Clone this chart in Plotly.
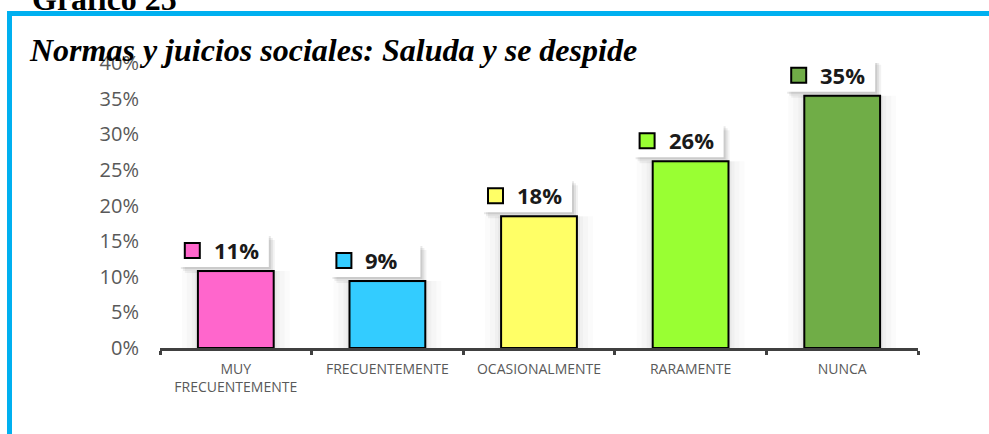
import plotly.graph_objects as go

categories = ["MUY<br>FRECUENTEMENTE", "FRECUENTEMENTE", "OCASIONALMENTE", "RARAMENTE", "NUNCA"]
values = [0.108, 0.094, 0.185, 0.262, 0.354]
labels = ["11%", "9%", "18%", "26%", "35%"]
colors = ["#FF66CC", "#33CCFF", "#FFFF66", "#99FF33", "#70AD47"]
y_ticks = [0, 0.05, 0.10, 0.15, 0.20, 0.25, 0.30, 0.35, 0.40]

W, H = 989, 434
ML, MR, MT, MB = 160, 71, 63, 86
PW, PH = W - ML - MR, H - MT - MB


def px_x(px):
    return (px - ML) / PW


def px_y(py):
    return (H - MB - py) / PH


fig = go.Figure()
fig.add_trace(go.Bar(
    x=categories, y=values,
    marker=dict(color=colors, line=dict(color="#000000", width=2)),
    width=0.5, hoverinfo="skip",
))

shapes = []
annotations = []

# soft shadows around bars
for c, v in zip(categories, values):
    for k, a in [(16, 0.015), (11, 0.02), (6, 0.025), (3, 0.03)]:
        shapes.append(dict(
            type="rect", layer="below", xref="x", yref="y",
            xsizemode="pixel", xanchor=c, x0=-38 - k, x1=38 + k,
            y0=0, y1=v, line=dict(width=0), fillcolor=f"rgba(0,0,0,{a})",
        ))

# data labels with legend keys
S = -12
for c, v, lab, col in zip(categories, values, labels, colors):
    base = dict(xref="x", yref="y", xsizemode="pixel", xanchor=c,
                ysizemode="pixel", yanchor=v)
    for off, a in [(6, 0.05), (4, 0.07), (2, 0.09)]:
        shapes.append(dict(type="rect", **base,
                           x0=S - 45 + off, x1=S + 45 + off,
                           y0=4 - off, y1=37 - off,
                           line=dict(width=0), fillcolor=f"rgba(0,0,0,{a})"))
    shapes.append(dict(type="rect", **base, x0=S - 45, x1=S + 45, y0=4, y1=37,
                       line=dict(width=0), fillcolor="white"))
    shapes.append(dict(type="rect", **base, x0=S - 39, x1=S - 24, y0=13, y1=28,
                       line=dict(color="#000000", width=2), fillcolor=col))
    annotations.append(dict(
        x=c, y=v, xref="x", yref="y", text=f"<b>{lab}</b>", showarrow=False,
        xanchor="left", yanchor="middle", xshift=S - 12, yshift=21,
        font=dict(family="Open Sans", size=22, color="#1a1a1a"),
    ))

# blue frame
shapes.append(dict(type="rect", xref="paper", yref="paper",
                   x0=px_x(9.5), x1=px_x(1005), y0=px_y(460), y1=px_y(13.5),
                   line=dict(color="#00B0F0", width=5), fillcolor="rgba(0,0,0,0)"))

annotations.append(dict(
    xref="paper", yref="paper", x=px_x(30), y=px_y(19), xanchor="left", yanchor="bottom",
    text="<b>Gráfico 25</b>", showarrow=False,
    font=dict(family="Liberation Serif", size=32, color="#000000"),
))

fig.update_layout(
    width=W, height=H,
    margin=dict(l=ML, r=MR, t=MT, b=MB),
    paper_bgcolor="white", plot_bgcolor="white",
    showlegend=False,
    bargap=0.5,
    title=dict(
        text="<b><i>Normas y juicios sociales: Saluda y se despide</i></b>",
        x=30 / W, xanchor="left", y=1 - 50 / H, yanchor="middle",
        font=dict(family="Liberation Serif", size=32, color="#000000"),
    ),
    xaxis=dict(
        type="category", showgrid=False, zeroline=False,
        showline=True, linecolor="#404040", linewidth=3,
        ticks="outside", tickson="boundaries", ticklen=4, tickwidth=3, tickcolor="#404040",
        tickfont=dict(family="Open Sans", size=14, color="#595959"),
        tickangle=0, ticklabelstandoff=6,
    ),
    yaxis=dict(
        range=[0, 0.40], tickvals=y_ticks, tickformat=".0%",
        showgrid=False, zeroline=False, showline=False, ticks="",
        ticklabelstandoff=20,
        tickfont=dict(family="Open Sans", size=20, color="#595959"),
    ),
    shapes=shapes, annotations=annotations,
)

fig.write_html("out.html", config={"displayModeBar": False},
               post_script="document.body.style.margin='0';")
